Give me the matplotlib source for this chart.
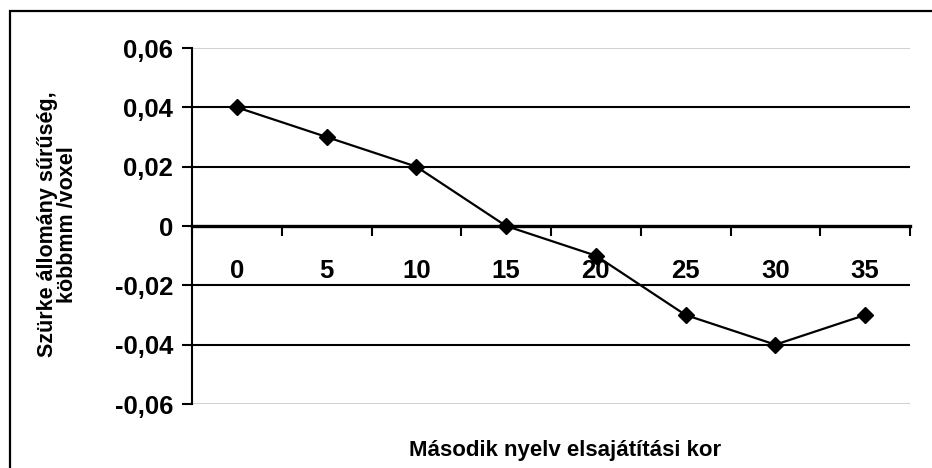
import matplotlib
matplotlib.use("Agg")
import matplotlib.pyplot as plt
from matplotlib.patches import Rectangle

# data
ages = ["0", "5", "10", "15", "20", "25", "30", "35"]
density = [0.04, 0.03, 0.02, 0.0, -0.01, -0.03, -0.04, -0.03]
y_ticks = [-0.06, -0.04, -0.02, 0.0, 0.02, 0.04, 0.06]
y_labels = ["-0,06", "-0,04", "-0,02", "0", "0,02", "0,04", "0,06"]

plt.rcParams['font.family'] = ['Liberation Sans', 'DejaVu Sans']
plt.rcParams['font.weight'] = 'bold'

fig = plt.figure(figsize=(9.32, 4.68), dpi=100)
ax = fig.add_axes([192 / 932, 1 - 404 / 468, (910 - 192) / 932, (404 - 48) / 468])

x = list(range(len(ages)))
ax.plot(x, density, color="black", lw=1.6, marker="D", ms=8, zorder=5, clip_on=False)

ax.set_xlim(-0.5, len(ages) - 0.5)
ax.set_ylim(-0.06, 0.06)

# horizontal gridlines
for v in y_ticks:
    if v == 0:
        continue
    if abs(v) > 0.05:
        ax.axhline(v, color="#c8c8c8", lw=1.2, zorder=1)
    else:
        ax.axhline(v, color="black", lw=1.5, zorder=1)

for s in ["top", "right"]:
    ax.spines[s].set_visible(False)
ax.spines["left"].set_linewidth(1.5)
ax.spines["bottom"].set_position(("data", 0))
ax.spines["bottom"].set_linewidth(2.4)

ax.set_yticks(y_ticks)
ax.set_yticklabels(y_labels)
ax.tick_params(axis="y", direction="out", length=7.5, width=1.5, pad=6, labelsize=18.5)

# category boundaries get tick marks, labels sit at category centres
ax.set_xticks([i - 0.5 for i in range(len(ages) + 1)])
ax.set_xticklabels([])
ax.tick_params(axis="x", which="major", direction="out", length=7.5, width=1.5)
ax.set_xticks(x, minor=True)
ax.set_xticklabels(ages, minor=True)
ax.tick_params(axis="x", which="minor", length=0, pad=24, labelsize=18.5)

ax.set_xlabel("Második nyelv elsajátítási kor", fontsize=16, fontweight="bold")
ax.xaxis.set_label_coords(0.52, -0.1)
ax.set_ylabel("Szürke állomány sűrűség,\nköbbmm /voxel", fontsize=15.5,
              fontweight="bold", linespacing=0.95)
ax.yaxis.set_label_coords(-0.159, 0.505)

# chart frame (only top and left edges fall inside the picture)
fig.add_artist(Rectangle((9.5 / 932, -1), 2, 1 + 1 - 11 / 468, transform=fig.transFigure,
                         fill=False, edgecolor="black", lw=1.6))

fig.savefig("out.png", dpi=100)
